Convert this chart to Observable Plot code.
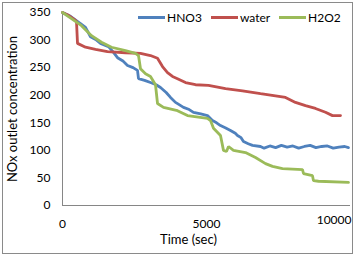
<!DOCTYPE html>
<html>
<head>
<meta charset="utf-8">
<script src="https://cdn.jsdelivr.net/npm/d3@7"></script>
<script src="https://cdn.jsdelivr.net/npm/@observablehq/plot@0.6"></script>
<style>
  html, body { margin: 0; padding: 0; background: #fff; }
  #wrap { position: relative; width: 355px; height: 256px; overflow: hidden; font-family: Lato, "Open Sans", sans-serif; }
  #border { position: absolute; left: 2px; top: 2px; width: 349px; height: 250px; border: 1px solid #8a8a8a; pointer-events: none; }
  #legend { position: absolute; top: 10px; left: 138px; font-size: 12px; color: #000; display: flex; align-items: center; white-space: nowrap; }
  .item { display: flex; align-items: center; margin-right: 9px; }
  .sw { display: inline-block; width: 27px; height: 3px; margin-right: 2px; }
</style>
</head>
<body>
<div id="wrap">
  <div id="chart"></div>
  <div id="legend"></div>
  <div id="border"></div>
</div>
<script>
// Series names and colours
const seriesNames = ["HNO3", "water", "H2O2"];
const seriesColors = ["#4F81BD", "#C0504D", "#9BBB59"];

// HNO3 (time in sec, NOx value)
const tHNO3 = [0, 278, 625, 799, 972, 1150, 1319, 1597, 1750, 1910, 2100, 2257, 2450, 2604, 2639, 2850, 3055, 3250, 3403, 3600, 3750, 3923, 4050, 4201, 4400, 4548, 4800, 5034, 5208, 5350, 5486, 5650, 5833, 6000, 6076, 6200, 6284, 6450, 6597, 6875, 7000, 7200, 7400, 7600, 7800, 8000, 8200, 8400, 8600, 8800, 9000, 9200, 9400, 9600, 9800, 9930];
const vHNO3 = [350, 343, 330, 323, 306, 301, 294, 288, 279, 268, 262, 254, 250, 245, 230, 227, 223, 219, 214, 205, 196, 187, 183, 178, 174, 169, 166, 163, 154, 150, 145, 141, 136, 131, 127, 123, 116, 112, 109, 107, 104, 108, 105, 109, 106, 108, 104, 107, 109, 105, 107, 108, 104, 106, 107, 105];

// water
const tWater = [0, 208, 417, 486, 521, 800, 1146, 1562, 2187, 2708, 3055, 3299, 3472, 3646, 3819, 3993, 4271, 4618, 5069, 5660, 6250, 6875, 7396, 7743, 8090, 8437, 8784, 9132, 9375, 9653];
const vWater = [350, 345, 337, 334, 294, 287, 283, 279, 277, 276, 272, 267, 252, 241, 234, 230, 223, 219, 218, 212, 208, 203, 199, 196, 187, 181, 176, 169, 163, 163];

// H2O2
const tH2O2 = [0, 312, 660, 1007, 1354, 1701, 2187, 2535, 2639, 2708, 2882, 3055, 3229, 3299, 3507, 3993, 4340, 5034, 5139, 5243, 5486, 5590, 5694, 5764, 5937, 6354, 6701, 7049, 7292, 7639, 8333, 8368, 8680, 8715, 8888, 9930];
const vH2O2 = [350, 339, 326, 308, 296, 287, 281, 276, 272, 248, 239, 234, 219, 185, 178, 172, 163, 158, 154, 140, 127, 100, 98, 107, 100, 96, 87, 76, 71, 67, 65, 58, 54, 45, 44, 42];

const xTicksMid = [0, 5000];
const xTicksEnd = [10000];
const yTicks = [0, 50, 100, 150, 200, 250, 300, 350];

const rows = [];
[[tHNO3, vHNO3], [tWater, vWater], [tH2O2, vH2O2]].forEach(([ts, vs], i) => {
  ts.forEach((t, j) => rows.push({series: seriesNames[i], t, v: vs[j]}));
});

const fmt = d3.format("d");

const chart = Plot.plot({
  width: 355,
  height: 256,
  marginLeft: 62,
  marginRight: 5,
  marginTop: 12,
  marginBottom: 51,
  style: {fontFamily: "Lato, 'Open Sans', sans-serif", fontSize: "12px", background: "transparent", color: "#000"},
  x: {domain: [0, 10000]},
  y: {domain: [0, 350]},
  color: {domain: seriesNames, range: seriesColors},
  marks: [
    Plot.axisY(yTicks, {tickSize: 0, tickPadding: 12, label: null, fontSize: 12, tickFormat: fmt}),
    Plot.axisX(xTicksMid, {tickSize: 0, tickPadding: 14, label: null, fontSize: 12, tickFormat: fmt}),
    Plot.axisX(xTicksEnd, {tickSize: 0, tickPadding: 10, label: null, textAnchor: "end", dx: 1, fontSize: 12, tickFormat: fmt}),
    Plot.ruleX([0], {stroke: "#868686"}),
    Plot.ruleY([0], {stroke: "#868686"}),
    Plot.line(rows, {x: "t", y: "v", z: "series", stroke: "series", strokeWidth: 2.8, strokeLinejoin: "miter"}),
    Plot.text(["NOx outlet concentration"], {frameAnchor: "left", textAnchor: "middle", dx: -50, rotate: -90, fontSize: 13}),
    Plot.text(["Time (sec)"], {frameAnchor: "bottom", textAnchor: "middle", dy: 38, dx: -18, fontSize: 13})
  ]
});
document.getElementById("chart").appendChild(chart);

const legend = document.getElementById("legend");
seriesNames.forEach((n, i) => {
  const it = document.createElement("div");
  it.className = "item";
  const sw = document.createElement("span");
  sw.className = "sw";
  sw.style.background = seriesColors[i];
  it.appendChild(sw);
  const tx = document.createElement("span");
  tx.textContent = n;
  it.appendChild(tx);
  legend.appendChild(it);
});
</script>
</body>
</html>
